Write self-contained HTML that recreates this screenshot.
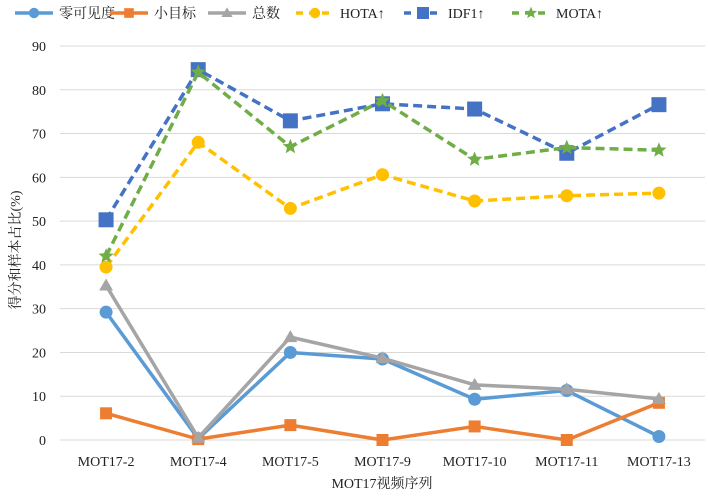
<!DOCTYPE html>
<html><head><meta charset="utf-8"><style>
body{margin:0;background:#fff}
svg text{font-family:"Liberation Serif","Noto Serif CJK SC",serif;fill:#222}
</style></head><body>
<svg id="chart" width="708" height="494" xmlns="http://www.w3.org/2000/svg"></svg>
<script>
const categories=["MOT17-2","MOT17-4","MOT17-5","MOT17-9","MOT17-10","MOT17-11","MOT17-13"];
const yTicks=[0,10,20,30,40,50,60,70,80,90];
const seriesNames=["零可见度","小目标","总数","HOTA↑","IDF1↑","MOTA↑"];
const zeroVis=[29.2,0.3,20,18.5,9.3,11.3,0.8];
const smallObj=[6.1,0.2,3.4,0,3.1,0,8.5];
const total=[35.3,0.5,23.5,18.7,12.6,11.6,9.4];
const hota=[39.5,68,52.9,60.6,54.6,55.8,56.4];
const idf1=[50.3,84.6,72.9,76.8,75.6,65.5,76.6];
const mota=[42,84,67,77.5,64.1,66.8,66.2];

const svg=document.getElementById('chart');
const NS="http://www.w3.org/2000/svg";
const x0=60,x1=705,yTop=46,yBot=440;
const step=(x1-x0)/categories.length;
const xS=i=>x0+step*(i+0.5);
const yS=v=>yBot-(v/90)*(yBot-yTop);
function mk(t,a,p){const e=document.createElementNS(NS,t);for(const k in a)e.setAttribute(k,a[k]);(p||svg).appendChild(e);return e;}

yTicks.forEach(t=>{
 const g=mk('line',{x1:x0,x2:x1,y1:yS(t),y2:yS(t),stroke:'#d9d9d9','stroke-width':1});
 
 
 const l=mk('text',{x:46,y:yS(t)+5,'text-anchor':'end','font-size':14});
 l.textContent=t;
 
 
});
categories.forEach((c,i)=>{
 const l=mk('text',{x:xS(i),y:466,'text-anchor':'middle','font-size':14});
 l.textContent=c;
 
 
});
const xt=mk('text',{x:382,y:488,'text-anchor':'middle','font-size':14});
xt.textContent='MOT17视频序列';


const yt=mk('text',{x:20,y:250,'text-anchor':'middle','font-size':14,transform:'rotate(-90 20 250)'});
yt.textContent='得分和样本占比(%)';



function marker(type,x,y,color,g,s){
 s=s||1;
 if(type==='c')return mk('circle',{cx:x,cy:y,r:6.5*s,fill:color},g);
 if(type==='s')return mk('rect',{x:x-6*s,y:y-6*s,width:12*s,height:12*s,fill:color},g);
 if(type==='t')return mk('polygon',{points:`${x},${y-7*s} ${x+7*s},${y+5*s} ${x-7*s},${y+5*s}`,fill:color},g);
 if(type==='S')return mk('rect',{x:x-7.5*s,y:y-7.5*s,width:15*s,height:15*s,fill:color},g);
 if(type==='st'){let p=[];for(let k=0;k<10;k++){const r=(k%2?3.5:8)*s;const a=-Math.PI/2+k*Math.PI/5;p.push((x+r*Math.cos(a)).toFixed(1)+','+(y+r*Math.sin(a)).toFixed(1));}return mk('polygon',{points:p.join(' '),fill:color},g);}
}
const defs=[
 [zeroVis,'#5B9BD5','c',false,'series-zero-visibility'],
 [smallObj,'#ED7D31','s',false,'series-small-target'],
 [total,'#A5A5A5','t',false,'series-total'],
 [hota,'#FFC000','c',true,'series-hota'],
 [idf1,'#4472C4','S',true,'series-idf1'],
 [mota,'#70AD47','st',true,'series-mota']];
defs.forEach(([d,col,m,dash,name])=>{
 const g=mk('g',{});
 
 
 mk('polyline',{points:d.map((v,i)=>xS(i)+','+yS(v)).join(' '),fill:'none',stroke:col,'stroke-width':3.5,'stroke-dasharray':dash?'9,5':'none','stroke-linejoin':'round'},g);
 d.forEach((v,i)=>{const p=marker(m,xS(i),yS(v),col,g);
  
  });
});
const lx=[15,110,208,296,404,512];
seriesNames.forEach((n,i)=>{
 const [d,col,m,dash]=defs[i];
 const g=mk('g',{});
 
 
 mk('line',{x1:lx[i],x2:lx[i]+38,y1:13,y2:13,stroke:col,'stroke-width':3.5,'stroke-dasharray':dash?'7,6':'none'},g);
 marker(m,lx[i]+19,13,col,g,0.8);
 const t=mk('text',{x:lx[i]+44,y:18,'font-size':14},g);
 t.textContent=n;
});
</script>
</body></html>
